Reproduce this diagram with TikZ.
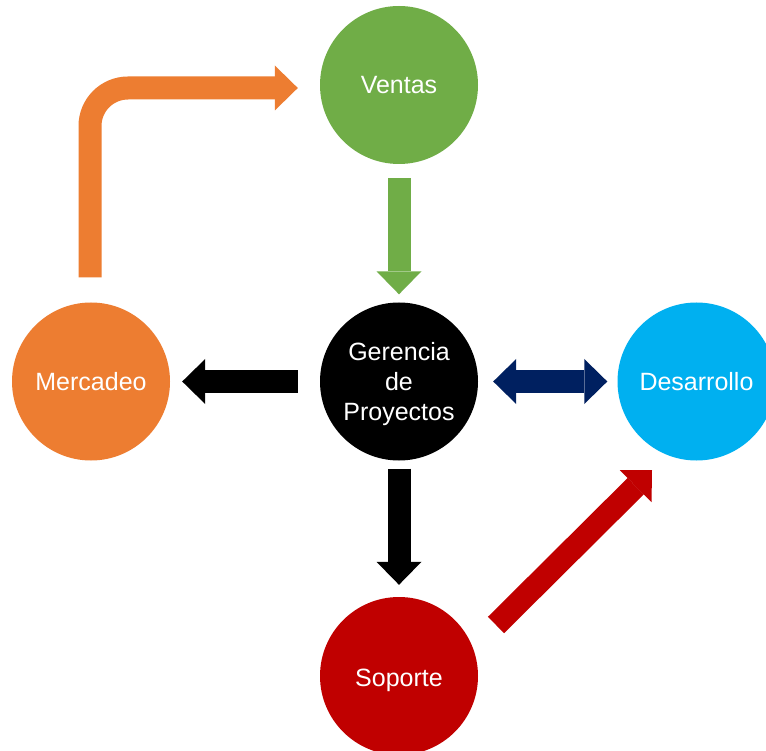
\documentclass[tikz,border=0pt]{standalone}
\usepackage{fontspec}
\setmainfont{Liberation Sans}
\usetikzlibrary{arrows.meta,calc}
\definecolor{cgreen}{HTML}{70AD47}
\definecolor{corange}{HTML}{ED7D31}
\definecolor{cblue}{HTML}{00B0F0}
\definecolor{cred}{HTML}{C00000}
\definecolor{cnavy}{HTML}{002060}
\begin{document}
\begin{tikzpicture}[x=1pt,y=1pt,
  bubble/.style={circle,minimum size=158pt,inner sep=0pt,text=white,
    font=\fontsize{25pt}{30pt}\selectfont,align=center},
  btext/.style={text=white,font=\fontsize{25pt}{30pt}\selectfont,align=center},
  fat/.style={line width=23pt,line cap=butt,
    -{Triangle[width=45pt,length=23pt,line width=0pt]}},
  fatboth/.style={line width=23pt,line cap=butt,
    {Triangle[width=45pt,length=23pt,line width=0pt]}-{Triangle[width=45pt,length=23pt,line width=0pt]}},
]
\clip (0,0) rectangle (766,-751);
\fill[white] (0,0) rectangle (766,-751);
\node[bubble,fill=cgreen] (ventas) at (399,-85) {Ventas};
\node[bubble,fill=black] (ger) at (399,-381.5) {};
\node[btext] (gertext) at (399,-384) {Gerencia\\de\\Proyectos};
\node[bubble,fill=corange] (merc) at (91,-381.5) {Mercadeo};
\node[bubble,fill=cblue] (des) at (696.5,-381.5) {Desarrollo};
\node[bubble,fill=cred] (sop) at (399,-676) {};
\node[btext] (soptext) at (399,-680.5) {Soporte};
\coordinate (oStart) at ($(merc.north)+(-1,25)$);
\coordinate (oEnd) at ($(ventas.west)+(-22,-3)$);
\coordinate (rStart) at ($(sop)+(97,51)$);
\coordinate (rEnd) at ($(des)+(-44.5,-88.5)$);
\draw[fat,cgreen] ([yshift=-14pt]ventas.south) -- ([yshift=8pt]ger.north);
\draw[fat,black] ([xshift=-22pt]ger.west) -- ([xshift=12pt]merc.east);
\draw[fatboth,cnavy] ([xshift=15pt]ger.east) -- ([xshift=-10pt]des.west);
\draw[fat,black] ([yshift=-8pt]ger.south) -- ([yshift=12pt]sop.north);
\draw[fat,cred] (rStart) -- (rEnd);
\draw[fat,corange,rounded corners=38pt] (oStart) |- (oEnd);
\end{tikzpicture}
\end{document}
